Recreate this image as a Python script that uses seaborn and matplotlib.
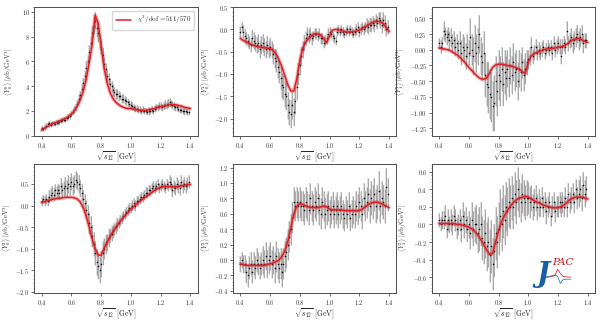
import numpy as np
import pandas as pd
import matplotlib
matplotlib.use("Agg")
import matplotlib.pyplot as plt
from matplotlib.ticker import MultipleLocator, AutoMinorLocator
import seaborn as sns

sns.set_style("ticks")
plt.rcParams['font.family'] = 'serif'
plt.rcParams['font.serif'] = ['cmr10', 'DejaVu Serif']
plt.rcParams['mathtext.fontset'] = 'cm'
plt.rcParams['axes.formatter.use_mathtext'] = True
plt.rcParams['axes.unicode_minus'] = True

# ==================== 数据 ====================
# 质量分箱中心 (GeV)
mass = np.round(np.arange(0.40, 1.395, 0.01), 2)
# 拟合曲线的取样点
mass_fit = np.round(np.arange(0.40, 1.405, 0.02), 2)

y00 = [0.6, 0.55, 0.7, 0.8, 0.95, 1.0, 0.9, 1.0, 1.0, 0.95,
       1.05, 1.1, 1.1, 1.2, 1.25, 1.3, 1.3, 1.4, 1.5, 1.6,
       1.75, 1.9, 2.1, 2.3, 2.6, 3.0, 3.3, 3.8, 4.3, 4.8,
       5.5, 6.0, 6.8, 7.5, 8.3, 8.9, 9.3, 8.7, 8.3, 7.6,
       7.2, 6.5, 5.8, 5.4, 4.8, 4.6, 4.2, 4.0, 3.7, 3.5,
       3.4, 3.4, 3.2, 3.2, 3.0, 3.0, 2.9, 2.8, 2.7, 2.6,
       2.5, 2.4, 2.3, 2.2, 2.2, 2.1, 2.1, 2.0, 2.1, 2.0,
       2.0, 1.9, 2.0, 2.0, 2.1, 2.0, 2.2, 2.3, 2.3, 2.4,
       2.4, 2.3, 2.4, 2.5, 2.5, 2.6, 2.7, 2.6, 2.5, 2.4,
       2.3, 2.3, 2.2, 2.1, 2.1, 2.0, 2.0, 2.0, 1.9, 1.9]
e00 = [0.15, 0.15, 0.2, 0.2, 0.2, 0.2, 0.2, 0.2, 0.2, 0.2,
       0.2, 0.2, 0.2, 0.2, 0.2, 0.2, 0.2, 0.2, 0.25, 0.25,
       0.25, 0.25, 0.3, 0.3, 0.3, 0.35, 0.35, 0.4, 0.4, 0.45,
       0.5, 0.5, 0.55, 0.6, 0.6, 0.7, 0.7, 0.7, 0.7, 0.65,
       0.6, 0.6, 0.55, 0.5, 0.5, 0.5, 0.45, 0.45, 0.45, 0.4,
       0.4, 0.4, 0.4, 0.35, 0.35, 0.35, 0.35, 0.3, 0.3, 0.3,
       0.3, 0.3, 0.3, 0.3, 0.3, 0.3, 0.3, 0.25, 0.3, 0.25,
       0.25, 0.25, 0.3, 0.25, 0.3, 0.25, 0.3, 0.3, 0.3, 0.3,
       0.3, 0.3, 0.3, 0.35, 0.3, 0.35, 0.35, 0.3, 0.3, 0.3,
       0.3, 0.3, 0.3, 0.25, 0.3, 0.25, 0.3, 0.25, 0.25, 0.25]
f00 = [0.45, 0.6, 0.75, 0.88, 1.0, 1.1, 1.2, 1.3, 1.4, 1.55,
       1.75, 2.0, 2.4, 2.9, 3.6, 4.6, 5.9, 7.4, 9.75, 9.1,
       7.3, 5.5, 4.3, 3.5, 3.0, 2.7, 2.5, 2.35, 2.25, 2.2,
       2.2, 2.15, 2.1, 2.05, 2.05, 2.05, 2.1, 2.15, 2.2, 2.3,
       2.35, 2.4, 2.45, 2.5, 2.5, 2.5, 2.45, 2.4, 2.3, 2.25, 2.2]

y01 = [-0.05, 0.05, -0.05, -0.15, -0.2, -0.25, -0.3, -0.35, -0.2, -0.25,
       -0.3, -0.35, -0.3, -0.45, -0.35, -0.3, -0.4, -0.45, -0.35, -0.45,
       -0.4, -0.45, -0.55, -0.65, -0.7, -0.85, -0.95, -1.1, -1.25, -1.3,
       -1.45, -1.5, -1.7, -1.85, -1.9, -1.7, -1.85, -1.6, -1.3, -1.0,
       -0.8, -0.6, -0.45, -0.3, -0.2, -0.1, -0.15, -0.1, -0.2, -0.15,
       -0.1, -0.1, -0.15, -0.1, -0.2, -0.2, -0.3, -0.25, -0.2, -0.1,
       -0.05, -0.1, -0.15, -0.2, -0.25, -0.05, 0.0, -0.05, 0.0, -0.05,
       -0.1, -0.05, 0.0, -0.05, 0.0, -0.05, -0.1, -0.05, 0.0, 0.05,
       -0.05, 0.0, 0.05, 0.0, 0.05, 0.1, 0.05, 0.1, 0.1, 0.15,
       0.1, 0.2, 0.15, 0.25, 0.2, 0.1, 0.2, 0.15, 0.0, 0.05]
e01 = [0.12, 0.12, 0.15, 0.15, 0.15, 0.15, 0.15, 0.15, 0.18, 0.18,
       0.18, 0.18, 0.2, 0.2, 0.2, 0.2, 0.2, 0.2, 0.2, 0.2,
       0.2, 0.2, 0.22, 0.22, 0.25, 0.25, 0.25, 0.25, 0.28, 0.28,
       0.3, 0.3, 0.3, 0.3, 0.32, 0.3, 0.32, 0.3, 0.28, 0.25,
       0.22, 0.2, 0.2, 0.18, 0.15, 0.15, 0.15, 0.15, 0.15, 0.12,
       0.12, 0.12, 0.12, 0.12, 0.12, 0.12, 0.12, 0.12, 0.12, 0.12,
       0.1, 0.1, 0.1, 0.1, 0.1, 0.1, 0.1, 0.1, 0.1, 0.1,
       0.1, 0.1, 0.1, 0.1, 0.1, 0.1, 0.1, 0.1, 0.12, 0.12,
       0.12, 0.12, 0.12, 0.12, 0.12, 0.15, 0.15, 0.15, 0.15, 0.15,
       0.15, 0.15, 0.15, 0.15, 0.18, 0.18, 0.18, 0.18, 0.15, 0.15]
f01 = [-0.2, -0.25, -0.28, -0.32, -0.35, -0.37, -0.39, -0.4, -0.41, -0.42,
       -0.43, -0.47, -0.55, -0.68, -0.85, -1.05, -1.25, -1.38, -1.38, -1.1,
       -0.7, -0.42, -0.28, -0.2, -0.14, -0.1, -0.1, -0.13, -0.2, -0.3,
       -0.15, -0.02, 0.0, -0.01, -0.03, -0.05, -0.06, -0.06, -0.05, -0.04,
       -0.02, 0.02, 0.06, 0.1, 0.14, 0.17, 0.18, 0.17, 0.13, 0.05, -0.05]

y11 = [0.1, 0.05, 0.1, 0.3, 0.25, 0.2, 0.25, 0.15, 0.2, 0.1,
       0.15, 0.05, 0.1, 0.0, 0.1, -0.05, 0.05, 0.0, -0.1, 0.05,
       -0.05, 0.2, 0.0, -0.1, 0.1, -0.05, 0.05, 0.25, -0.1, -0.2,
       -0.05, -0.4, -0.55, -0.6, -0.7, -0.75, -0.9, -0.85, -0.5, -0.65,
       -0.4, -0.5, -0.3, -0.55, -0.35, -0.45, -0.3, -0.45, -0.25, -0.4,
       -0.2, -0.35, -0.3, -0.5, -0.3, -0.35, -0.2, -0.4, -0.3, -0.2,
       -0.15, -0.1, 0.05, -0.1, -0.05, 0.05, -0.05, 0.0, -0.05, 0.0,
       0.05, -0.05, 0.0, 0.05, 0.0, 0.05, -0.05, 0.1, 0.0, 0.05,
       0.1, 0.05, -0.1, 0.05, 0.1, 0.05, 0.3, 0.1, 0.15, 0.2,
       0.1, 0.15, 0.2, 0.25, 0.15, 0.2, 0.25, 0.1, 0.15, 0.15]
e11 = [0.08, 0.1, 0.1, 0.15, 0.12, 0.12, 0.12, 0.15, 0.15, 0.15,
       0.15, 0.15, 0.15, 0.15, 0.2, 0.2, 0.2, 0.2, 0.2, 0.2,
       0.2, 0.3, 0.25, 0.3, 0.3, 0.3, 0.3, 0.3, 0.3, 0.3,
       0.35, 0.35, 0.35, 0.4, 0.4, 0.4, 0.4, 0.45, 0.4, 0.4,
       0.4, 0.4, 0.35, 0.35, 0.35, 0.35, 0.3, 0.3, 0.3, 0.3,
       0.3, 0.3, 0.3, 0.3, 0.3, 0.3, 0.25, 0.25, 0.25, 0.2,
       0.15, 0.15, 0.15, 0.12, 0.12, 0.12, 0.12, 0.12, 0.12, 0.12,
       0.1, 0.1, 0.1, 0.1, 0.1, 0.1, 0.12, 0.12, 0.12, 0.12,
       0.12, 0.12, 0.12, 0.12, 0.12, 0.12, 0.15, 0.12, 0.12, 0.15,
       0.15, 0.15, 0.15, 0.15, 0.15, 0.15, 0.15, 0.15, 0.12, 0.12]
f11 = [0.03, 0.02, 0.01, 0.0, -0.02, -0.05, -0.08, -0.12, -0.17, -0.22,
       -0.28, -0.33, -0.38, -0.43, -0.46, -0.47, -0.45, -0.37, -0.28, -0.24,
       -0.23, -0.23, -0.24, -0.25, -0.26, -0.27, -0.29, -0.31, -0.35, -0.38,
       -0.2, -0.1, -0.06, -0.04, -0.02, 0.0, 0.01, 0.02, 0.02, 0.03,
       0.04, 0.05, 0.06, 0.09, 0.13, 0.16, 0.17, 0.18, 0.16, 0.13, 0.12]

y02 = [0.1, 0.15, 0.1, 0.15, 0.1, 0.2, 0.25, 0.3, 0.25, 0.35,
       0.3, 0.35, 0.3, 0.45, 0.35, 0.4, 0.45, 0.4, 0.5, 0.45,
       0.55, 0.45, 0.5, 0.6, 0.55, 0.5, 0.4, 0.3, 0.15, 0.05,
       -0.1, -0.2, -0.4, -0.5, -0.7, -0.9, -1.1, -1.3, -1.4, -1.5,
       -1.35, -1.1, -1.0, -0.9, -0.85, -0.75, -0.7, -0.65, -0.6, -0.55,
       -0.5, -0.45, -0.4, -0.35, -0.3, -0.25, -0.2, -0.15, -0.1, -0.05,
       -0.05, 0.0, 0.05, 0.0, 0.1, 0.1, 0.15, 0.2, 0.2, 0.25,
       0.3, 0.3, 0.35, 0.35, 0.4, 0.45, 0.4, 0.45, 0.5, 0.4,
       0.45, 0.5, 0.45, 0.4, 0.5, 0.45, 0.55, 0.5, 0.35, 0.45,
       0.4, 0.5, 0.45, 0.4, 0.55, 0.45, 0.5, 0.45, 0.5, 0.55]
e02 = [0.1, 0.1, 0.12, 0.12, 0.12, 0.15, 0.15, 0.15, 0.15, 0.15,
       0.15, 0.15, 0.18, 0.18, 0.18, 0.18, 0.2, 0.2, 0.2, 0.2,
       0.2, 0.2, 0.2, 0.2, 0.2, 0.2, 0.2, 0.2, 0.22, 0.22,
       0.22, 0.22, 0.25, 0.25, 0.25, 0.28, 0.28, 0.3, 0.3, 0.3,
       0.3, 0.28, 0.25, 0.22, 0.2, 0.2, 0.18, 0.18, 0.15, 0.15,
       0.15, 0.15, 0.12, 0.12, 0.12, 0.12, 0.12, 0.12, 0.12, 0.12,
       0.12, 0.12, 0.12, 0.12, 0.12, 0.12, 0.12, 0.12, 0.12, 0.12,
       0.12, 0.12, 0.12, 0.12, 0.12, 0.12, 0.12, 0.12, 0.12, 0.12,
       0.12, 0.12, 0.12, 0.12, 0.12, 0.12, 0.15, 0.15, 0.15, 0.15,
       0.15, 0.15, 0.15, 0.15, 0.15, 0.15, 0.15, 0.15, 0.15, 0.15]
f02 = [0.07, 0.09, 0.11, 0.13, 0.15, 0.16, 0.17, 0.18, 0.19, 0.19,
       0.19, 0.18, 0.15, 0.08, -0.05, -0.25, -0.5, -0.78, -1.0, -1.15,
       -1.15, -1.0, -0.85, -0.72, -0.6, -0.5, -0.4, -0.32, -0.24, -0.16,
       -0.08, -0.02, 0.04, 0.1, 0.15, 0.2, 0.25, 0.3, 0.35, 0.39,
       0.42, 0.44, 0.44, 0.44, 0.43, 0.43, 0.44, 0.46, 0.47, 0.48, 0.49]

y12 = [-0.05, 0.0, -0.05, -0.05, -0.15, -0.2, -0.1, -0.05, -0.15, -0.05,
       -0.1, 0.0, -0.05, -0.1, -0.05, 0.0, -0.05, 0.05, -0.05, 0.0,
       0.05, -0.05, 0.0, -0.1, 0.05, -0.05, -0.1, -0.05, -0.15, -0.05,
       0.05, 0.1, 0.2, 0.3, 0.4, 0.55, 0.75, 0.7, 0.75, 0.7,
       0.75, 0.7, 0.7, 0.65, 0.75, 0.7, 0.65, 0.8, 0.7, 0.65,
       0.75, 0.7, 0.8, 0.65, 0.6, 0.75, 0.7, 0.6, 0.65, 0.7,
       0.6, 0.65, 0.7, 0.6, 0.65, 0.7, 0.6, 0.65, 0.7, 0.6,
       0.55, 0.65, 0.6, 0.7, 0.55, 0.6, 0.65, 0.6, 0.7, 0.65,
       0.75, 0.7, 0.6, 0.8, 0.7, 0.75, 0.85, 0.7, 0.8, 0.75,
       0.85, 0.7, 0.75, 0.9, 0.7, 0.8, 0.75, 0.7, 0.95, 0.85]
e12 = [0.1, 0.1, 0.12, 0.12, 0.15, 0.15, 0.15, 0.15, 0.15, 0.15,
       0.15, 0.15, 0.15, 0.15, 0.15, 0.18, 0.18, 0.18, 0.18, 0.18,
       0.18, 0.18, 0.18, 0.2, 0.2, 0.2, 0.2, 0.2, 0.2, 0.2,
       0.2, 0.2, 0.2, 0.2, 0.2, 0.2, 0.2, 0.2, 0.2, 0.2,
       0.2, 0.2, 0.2, 0.2, 0.2, 0.2, 0.2, 0.2, 0.2, 0.2,
       0.2, 0.2, 0.2, 0.2, 0.2, 0.2, 0.2, 0.2, 0.2, 0.2,
       0.18, 0.18, 0.18, 0.18, 0.18, 0.18, 0.18, 0.18, 0.18, 0.18,
       0.18, 0.18, 0.18, 0.18, 0.18, 0.18, 0.18, 0.18, 0.2, 0.2,
       0.2, 0.2, 0.2, 0.2, 0.2, 0.2, 0.22, 0.22, 0.22, 0.22,
       0.22, 0.22, 0.22, 0.25, 0.22, 0.22, 0.22, 0.22, 0.25, 0.22]
f12 = [-0.05, -0.06, -0.07, -0.07, -0.07, -0.07, -0.07, -0.07, -0.07, -0.06,
       -0.05, -0.04, -0.02, 0.0, 0.05, 0.12, 0.25, 0.42, 0.6, 0.7,
       0.73, 0.72, 0.7, 0.69, 0.68, 0.68, 0.68, 0.69, 0.7, 0.69,
       0.66, 0.65, 0.65, 0.65, 0.65, 0.64, 0.64, 0.64, 0.64, 0.64,
       0.64, 0.66, 0.69, 0.72, 0.74, 0.75, 0.75, 0.74, 0.72, 0.7, 0.68]

y22 = [0.05, 0.0, 0.05, 0.05, 0.1, -0.05, 0.05, 0.0, 0.05, 0.0,
       0.1, 0.05, -0.05, 0.0, 0.05, -0.05, 0.1, 0.0, 0.05, -0.05,
       0.0, -0.1, 0.05, -0.05, 0.0, 0.0, -0.1, -0.05, 0.0, -0.15,
       -0.2, -0.1, -0.25, -0.2, -0.35, -0.25, -0.45, -0.3, -0.1, -0.2,
       -0.05, 0.1, 0.0, 0.15, 0.05, 0.2, 0.15, 0.25, 0.2, 0.3,
       0.2, 0.35, 0.25, 0.4, 0.3, 0.25, 0.35, 0.3, 0.25, 0.3,
       0.3, 0.25, 0.3, 0.2, 0.25, 0.3, 0.2, 0.25, 0.2, 0.3,
       0.2, 0.25, 0.15, 0.2, 0.25, 0.1, 0.2, 0.25, 0.15, 0.2,
       0.2, 0.25, 0.2, 0.25, 0.2, 0.3, 0.2, 0.35, 0.25, 0.3,
       0.35, 0.25, 0.4, 0.3, 0.35, 0.4, 0.3, 0.45, 0.35, 0.4]
e22 = [0.08, 0.08, 0.1, 0.1, 0.12, 0.1, 0.12, 0.1, 0.12, 0.12,
       0.12, 0.12, 0.12, 0.12, 0.12, 0.15, 0.15, 0.15, 0.15, 0.15,
       0.15, 0.18, 0.2, 0.2, 0.2, 0.22, 0.22, 0.25, 0.25, 0.25,
       0.25, 0.28, 0.28, 0.28, 0.3, 0.3, 0.3, 0.3, 0.3, 0.3,
       0.3, 0.3, 0.3, 0.3, 0.28, 0.28, 0.28, 0.28, 0.25, 0.25,
       0.25, 0.25, 0.25, 0.25, 0.22, 0.22, 0.22, 0.2, 0.2, 0.2,
       0.18, 0.18, 0.15, 0.15, 0.15, 0.15, 0.15, 0.15, 0.12, 0.12,
       0.12, 0.12, 0.15, 0.12, 0.12, 0.12, 0.12, 0.12, 0.12, 0.12,
       0.12, 0.12, 0.12, 0.12, 0.12, 0.12, 0.12, 0.12, 0.12, 0.12,
       0.12, 0.12, 0.12, 0.12, 0.15, 0.15, 0.15, 0.15, 0.15, 0.15]
f22 = [0.01, 0.01, 0.01, 0.01, 0.01, 0.01, 0.0, 0.0, -0.01, -0.02,
       -0.03, -0.05, -0.08, -0.12, -0.17, -0.23, -0.29, -0.34, -0.33, -0.2,
       -0.07, 0.03, 0.1, 0.16, 0.21, 0.25, 0.28, 0.3, 0.31, 0.32,
       0.31, 0.29, 0.27, 0.25, 0.24, 0.22, 0.21, 0.2, 0.19, 0.19,
       0.19, 0.2, 0.22, 0.25, 0.28, 0.3, 0.31, 0.31, 0.31, 0.3, 0.29]

labels = [r'$\langle Y_0^0\rangle$ [$\mu$b/GeV$^3$]', r'$\langle Y_0^1\rangle$ [$\mu$b/GeV$^3$]',
          r'$\langle Y_1^1\rangle$ [$\mu$b/GeV$^3$]', r'$\langle Y_0^2\rangle$ [$\mu$b/GeV$^3$]',
          r'$\langle Y_1^2\rangle$ [$\mu$b/GeV$^3$]', r'$\langle Y_2^2\rangle$ [$\mu$b/GeV$^3$]']
ytick_steps = [2, 0.5, 0.25, 0.5, 0.2, 0.2]
ylims = [(-0.06, 10.4), (-2.4, 0.5), (-1.38, 0.68), (-2.03, 0.97), (-0.43, 1.25), (-0.78, 0.69)]
ylabel_x = [-0.12, -0.13, -0.155, -0.13, -0.13, -0.14]
chi2_label = r'$\chi^2/\mathrm{dof}$ =511/570'

panels = [(y00, e00, f00), (y01, e01, f01), (y11, e11, f11),
          (y02, e02, f02), (y12, e12, f12), (y22, e22, f22)]

# JPAC 标志里的小曲线
logo_x = [0.0, 0.2, 0.4, 0.5, 0.6, 0.7, 0.85, 1.0]
logo_red = [0.0, 0.05, 0.15, 0.6, 0.3, 0.1, 0.05, 0.05]
logo_blue = [0.05, 0.1, 0.2, 0.1, -0.4, -0.15, -0.1, -0.1]

red = '#dc1f26'

fig, axes = plt.subplots(2, 3, figsize=(6, 3.2), dpi=100)
fig.subplots_adjust(left=0.057, right=0.992, bottom=0.084, top=0.978, wspace=0.215, hspace=0.21)

for i, (ax, (vals, errs, fit)) in enumerate(zip(axes.flat, panels)):
    df = pd.DataFrame({'m': mass, 'y': vals, 'e': errs})
    fd = pd.DataFrame({'m': mass_fit, 'f': fit})
    # 误差棒：浅灰宽 + 深灰细
    ax.errorbar(df['m'], df['y'], yerr=df['e'], fmt='none', ecolor='0.85', elinewidth=1.2, zorder=1)
    ax.errorbar(df['m'], df['y'], yerr=df['e'], fmt='none', ecolor='0.5', elinewidth=0.4, zorder=2)
    sns.scatterplot(data=df, x='m', y='y', ax=ax, color='k', s=1.3, linewidth=0, zorder=3)
    # 拟合带和中心线
    sns.lineplot(data=fd, x='m', y='f', ax=ax, color=red, alpha=0.3, lw=2.8, zorder=4)
    sns.lineplot(data=fd, x='m', y='f', ax=ax, color=red, lw=1.1, zorder=5,
                 label=chi2_label if i == 0 else None, legend=(i == 0))

    ax.set_xlim(0.35, 1.45)
    ax.set_ylim(*ylims[i])
    ax.xaxis.set_major_locator(MultipleLocator(0.2))
    ax.yaxis.set_major_locator(MultipleLocator(ytick_steps[i]))
    ax.yaxis.set_minor_locator(AutoMinorLocator(5))
    ax.tick_params(axis='both', which='major', labelsize=4.5, length=2, width=0.5, pad=1.2, colors='0.2')
    ax.tick_params(axis='y', which='minor', length=1, width=0.4, colors='0.3')
    ax.set_xlabel(r'$\sqrt{s_{12}}$ [GeV]', fontsize=5.5)
    ax.set_ylabel(labels[i], fontsize=4.8)
    ax.xaxis.set_label_coords(0.5, -0.1)
    ax.yaxis.set_label_coords(ylabel_x[i], 0.5)
    for sp in ax.spines.values():
        sp.set_color('0.3')
        sp.set_linewidth(0.7)

axes[0, 0].legend(loc='upper right', fontsize=5, frameon=True, edgecolor='0.8',
                  handlelength=2.2, borderpad=0.5, fancybox=True)

# JPAC 标志
lax = axes[1, 2]
lax.text(0.64, 0.04, 'J', transform=lax.transAxes, fontsize=20, color='#1a5ea8',
         fontweight='bold', fontstyle='italic', family='DejaVu Serif', va='bottom', zorder=6)
lax.text(0.735, 0.2, 'PAC', transform=lax.transAxes, fontsize=7.5, color='#c4161c',
         fontstyle='italic', family='DejaVu Serif', va='bottom', zorder=6)
inset = lax.inset_axes([0.68, 0.07, 0.18, 0.12])
inset.plot(logo_x, logo_red, color='#c4161c', lw=0.5)
inset.plot(logo_x, logo_blue, color='#1a5ea8', lw=0.5)
inset.set_axis_off()

plt.savefig('out.png', dpi=100)
